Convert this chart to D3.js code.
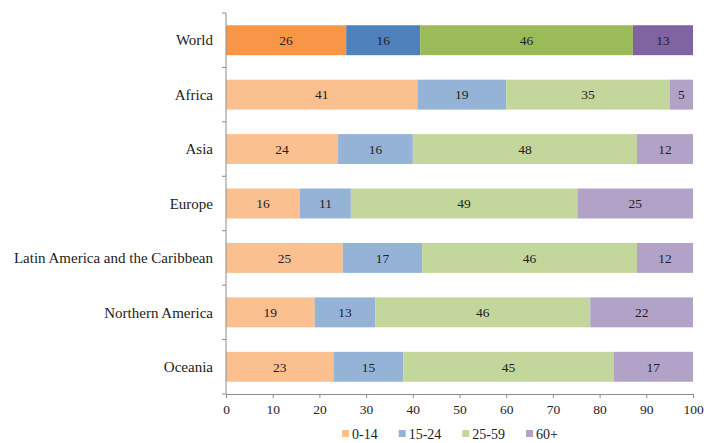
<!DOCTYPE html>
<html>
<head>
<meta charset="utf-8">
<script src="https://cdn.jsdelivr.net/npm/d3@7"></script>
<style>
  body { margin: 0; background: #fff; }
</style>
</head>
<body>
<div id="chart"></div>
<script>
// Region names, top to bottom
const regions = ["World", "Africa", "Asia", "Europe", "Latin America and the Caribbean", "Northern America", "Oceania"];
const ageGroups = ["0-14", "15-24", "25-59", "60+"];

// Share of population (%) per age group, one entry per region
const age0to14 = [26, 41, 24, 16, 25, 19, 23];
const age15to24 = [16, 19, 16, 11, 17, 13, 15];
const age25to59 = [46, 35, 48, 49, 46, 46, 45];
const age60plus = [13, 5, 12, 25, 12, 22, 17];

const xTicks = [0, 10, 20, 30, 40, 50, 60, 70, 80, 90, 100];

const strongColors = ["#F79646", "#4F81BD", "#9BBB59", "#8064A2"];
const lightColors = ["#FAC090", "#95B3D7", "#C3D69B", "#B3A2C7"];

const FONT = "'Liberation Serif', 'Times New Roman', 'DejaVu Serif', serif";
const width = 704, height = 443;
const margin = { top: 13, right: 11, bottom: 49, left: 226 };

const rows = regions.map((name, i) => {
  const vals = [age0to14[i], age15to24[i], age25to59[i], age60plus[i]];
  return { name, vals, total: d3.sum(vals) };
});

const svg = d3.select("#chart").append("svg")
  .attr("width", width)
  .attr("height", height)
  .attr("font-family", FONT);

const x = d3.scaleLinear().domain([0, 100]).range([margin.left, width - margin.right]);
const y = d3.scaleBand().domain(regions)
  .range([margin.top, height - margin.bottom])
  .paddingInner(0.45).paddingOuter(0.225);

// bars (normalised to 100%), World uses the saturated palette
const rowGroups = svg.append("g").selectAll("g")
  .data(rows)
  .join("g");

rowGroups.each(function (row, ri) {
  let acc = 0;
  const segs = row.vals.map((v, k) => {
    const s = { v, k, x0: acc / row.total * 100, x1: (acc + v) / row.total * 100 };
    acc += v;
    return s;
  });
  const palette = ri === 0 ? strongColors : lightColors;
  const g = d3.select(this);
  g.selectAll("rect").data(segs).join("rect")
    .attr("x", (d) => x(d.x0))
    .attr("width", (d) => x(d.x1) - x(d.x0))
    .attr("y", y(row.name))
    .attr("height", y.bandwidth())
    .attr("fill", (d) => palette[d.k]);
  g.selectAll("text").data(segs).join("text")
    .attr("x", (d) => (x(d.x0) + x(d.x1)) / 2)
    .attr("y", y(row.name) + y.bandwidth() / 2)
    .attr("dy", "0.35em")
    .attr("text-anchor", "middle")
    .attr("font-family", FONT)
    .attr("font-size", 13.5)
    .attr("fill", "#222")
    .text((d) => d.v);
});

// y axis: line, ticks between bands, region labels
const axisColor = "#8c8c8c";
const yTop = margin.top, yBot = height - margin.bottom;
svg.append("line")
  .attr("x1", x(0)).attr("x2", x(0))
  .attr("y1", yTop).attr("y2", yBot)
  .attr("stroke", axisColor);

const bounds = d3.range(regions.length + 1).map((i) => yTop + i * (yBot - yTop) / regions.length);
svg.append("g").selectAll("line").data(bounds).join("line")
  .attr("x1", x(0) - 4).attr("x2", x(0))
  .attr("y1", (d) => d).attr("y2", (d) => d)
  .attr("stroke", axisColor);

svg.append("g").selectAll("text").data(regions).join("text")
  .attr("x", x(0) - 13)
  .attr("y", (d) => y(d) + y.bandwidth() / 2)
  .attr("dy", "0.35em")
  .attr("text-anchor", "end")
  .attr("font-family", FONT)
  .attr("font-size", 15)
  .attr("fill", "#222")
  .text((d) => d);

// x axis
const xAxis = svg.append("g")
  .attr("transform", `translate(0,${yBot})`)
  .call(d3.axisBottom(x).tickValues(xTicks).tickSize(4).tickSizeOuter(0).tickPadding(6));
xAxis.select(".domain").attr("stroke", axisColor);
xAxis.selectAll(".tick line").attr("stroke", axisColor);
xAxis.selectAll(".tick text")
  .attr("font-family", FONT)
  .attr("font-size", 13.5)
  .attr("fill", "#222");

// legend
const legendItems = ageGroups.map((label, i) => ({ label, color: lightColors[i] }));
const legend = svg.append("g").attr("transform", "translate(342,434)");
let lx = 0;
legendItems.forEach((item) => {
  const g = legend.append("g").attr("transform", `translate(${lx},0)`);
  g.append("rect").attr("x", 0).attr("y", -4).attr("width", 7).attr("height", 7).attr("fill", item.color);
  const t = g.append("text").attr("x", 10).attr("dy", "0.35em")
    .attr("font-family", FONT).attr("font-size", 14).attr("fill", "#222").text(item.label);
  lx += 10 + t.node().getComputedTextLength() + 21;
});
</script>
</body>
</html>
